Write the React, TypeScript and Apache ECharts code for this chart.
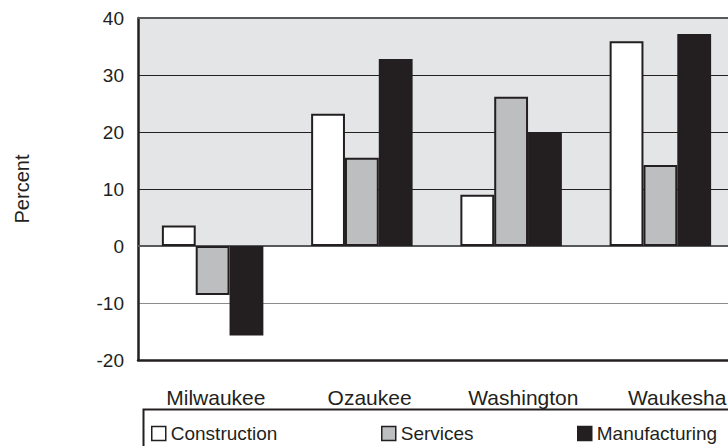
import React, { useEffect, useRef } from 'react';
import * as echarts from 'echarts';

const categories = ['Milwaukee', 'Ozaukee', 'Washington', 'Waukesha'];
const construction = [3.6, 23.2, 9.0, 35.9];
const services = [-8.6, 15.5, 26.2, 14.2];
const manufacturing = [-15.7, 32.8, 20.0, 37.2];
const seriesNames = ['Construction', 'Services', 'Manufacturing'];
const yMin = -20;
const yMax = 40;
const yInterval = 10;

export default function App() {
  const ref = useRef<HTMLDivElement>(null);
  useEffect(() => {
    const chart = echarts.init(ref.current!, null, { renderer: 'svg' });
    const ink = '#231f20';
    const font = 'Arial, "Liberation Sans", Helvetica, sans-serif';
    const legendCommon = {
      padding: 0,
      top: 424,
      icon: 'rect',
      itemWidth: 14,
      itemHeight: 14,
      selectedMode: false,
      textStyle: { fontSize: 19, color: ink, fontFamily: font },
      itemStyle: { borderWidth: 1.5, borderColor: ink },
    };
    const barCommon = {
      type: 'bar',
      xAxisIndex: 0,
      yAxisIndex: 0,
      barGap: '0%',
      barCategoryGap: '32%',
      z: 6,
    };
    const option = {
      animation: false,
      textStyle: { fontFamily: font },
      grid: [
        { left: 138, top: 18, width: 597, height: 342 },
        { left: 139, top: 18, width: 615, height: 342 },
      ],
      xAxis: [
        {
          type: 'category',
          data: categories,
          gridIndex: 0,
          z: 3,
          position: 'bottom',
          axisLine: { onZero: false, lineStyle: { color: ink, width: 2.5 } },
          axisTick: { show: false },
          axisLabel: { show: false },
        },
        {
          type: 'category',
          data: categories,
          gridIndex: 1,
          axisLine: { show: false },
          axisTick: { show: false },
          axisLabel: { fontSize: 21, color: ink, margin: 27, fontFamily: font },
        },
      ],
      yAxis: [
        {
          type: 'value',
          gridIndex: 0,
          min: yMin,
          max: yMax,
          interval: yInterval,
          z: 3,
          name: 'Percent',
          nameLocation: 'middle',
          nameRotate: 90,
          nameGap: 106,
          nameTextStyle: { fontSize: 20, color: ink, fontFamily: font },
          axisLine: { show: true, lineStyle: { color: ink, width: 2.5 } },
          axisTick: { show: false },
          axisLabel: { fontSize: 19, color: ink, margin: 14, fontFamily: font },
          splitLine: {
            show: true,
            lineStyle: {
              color: ['transparent', '#8c8c8c', 'transparent', ink, ink, ink, 'transparent'],
              width: 1.2,
            },
          },
        },
        { type: 'value', gridIndex: 1, min: yMin, max: yMax, interval: yInterval, show: false },
      ],
      legend: [
        { ...legendCommon, data: [seriesNames[0]], left: 151 },
        { ...legendCommon, data: [seriesNames[1]], left: 381 },
        { ...legendCommon, data: [seriesNames[2]], left: 577 },
      ],
      graphic: [
        {
          type: 'rect',
          shape: { x: 143.5, y: 409.5, width: 640, height: 60 },
          style: { fill: 'none', stroke: ink, lineWidth: 2 },
          silent: true,
        },
      ],
      series: [
        {
          name: 'bg',
          type: 'line',
          data: [],
          xAxisIndex: 0,
          yAxisIndex: 0,
          z: 1,
          silent: true,
          markArea: {
            silent: true,
            itemStyle: { color: '#e4e5e7' },
            data: [[{ yAxis: 0 }, { yAxis: yMax }]],
          },
        },
        {
          name: 'lines',
          type: 'line',
          data: [],
          xAxisIndex: 0,
          yAxisIndex: 0,
          z: 4,
          silent: true,
          markLine: {
            silent: true,
            symbol: 'none',
            label: { show: false },
            data: [
              { yAxis: 0, lineStyle: { color: '#58595b', width: 2, type: 'solid' } },
              { yAxis: yMax, lineStyle: { color: '#58595b', width: 2, type: 'solid' } },
            ],
          },
        },
        {
          ...barCommon,
          name: seriesNames[0],
          data: construction,
          itemStyle: { color: '#ffffff', borderColor: ink, borderWidth: 2 },
        },
        {
          ...barCommon,
          name: seriesNames[1],
          data: services,
          itemStyle: { color: '#bcbec0', borderColor: ink, borderWidth: 2 },
        },
        {
          ...barCommon,
          name: seriesNames[2],
          data: manufacturing,
          itemStyle: { color: ink, borderColor: ink, borderWidth: 2 },
        },
      ],
    };
    chart.setOption(option as any);
    return () => chart.dispose();
  }, []);
  return (
    <div
      style={{
        position: 'absolute',
        left: 0,
        top: 0,
        width: 728,
        height: 446,
        overflow: 'hidden',
      }}
    >
      <div ref={ref} style={{ width: 800, height: 446 }} />
    </div>
  );
}
